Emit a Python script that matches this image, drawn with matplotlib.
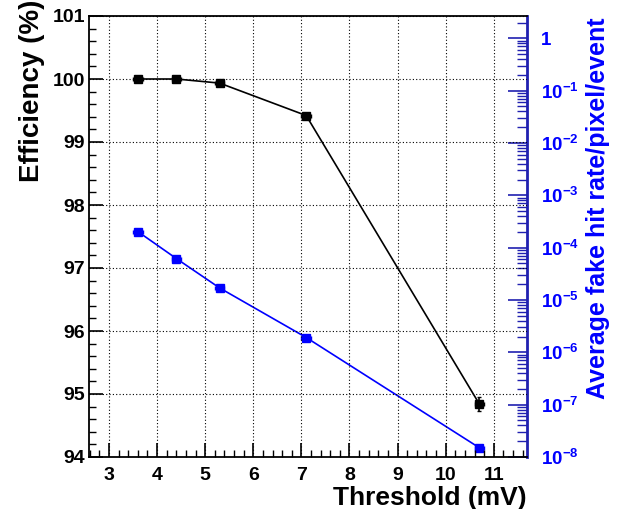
import numpy as np
import matplotlib
matplotlib.use('Agg')
import matplotlib.pyplot as plt
from matplotlib.ticker import MultipleLocator, FuncFormatter, FixedLocator, NullFormatter

plt.rcParams['font.family'] = ['Liberation Sans', 'DejaVu Sans']
plt.rcParams['font.weight'] = 'bold'
plt.rcParams['mathtext.fontset'] = 'custom'
plt.rcParams['mathtext.rm'] = 'Liberation Sans:bold'
plt.rcParams['mathtext.bf'] = 'Liberation Sans:bold'
plt.rcParams['mathtext.it'] = 'Liberation Sans:bold'

# data
threshold = [3.6, 4.4, 5.3, 7.1, 10.7]
threshold_err = [0.1, 0.1, 0.1, 0.1, 0.1]
efficiency = [100.0, 100.0, 99.935, 99.42, 94.84]
efficiency_err = [0.01, 0.01, 0.02, 0.03, 0.11]
fake_rate = [2.03e-4, 6.2e-5, 1.70e-5, 1.92e-6, 1.5e-8]

blue = '#0000ff'
axblue = '#2020b0'

fig = plt.figure(figsize=(6.2, 5.09), dpi=100)
ax = fig.add_axes([89/620, 1-457/509, (527-89)/620, (457-16)/509])
ax2 = ax.twinx()
ax.set_zorder(ax2.get_zorder()+1)
ax.patch.set_visible(False)

ax.errorbar(threshold, efficiency, xerr=threshold_err, yerr=efficiency_err,
            color='black', marker='s', markersize=6, lw=1.2, capsize=1.5, elinewidth=1.2)
ax2.errorbar(threshold, fake_rate, xerr=threshold_err,
             color=blue, marker='s', markersize=6, lw=1.2, capsize=1.5, elinewidth=1.2)

ax.set_xlim(2.585, 11.69)
ax.set_ylim(94, 101)
ax2.set_yscale('log')
ax2.set_ylim(1e-8, 2.67)

ax.xaxis.set_major_locator(MultipleLocator(1))
ax.xaxis.set_minor_locator(MultipleLocator(0.2))
ax.yaxis.set_major_locator(MultipleLocator(1))
ax.yaxis.set_minor_locator(MultipleLocator(0.2))
ax.grid(True, which='major', color='black', linestyle=(0, (1, 2)), lw=0.8)

ax.tick_params(axis='both', which='major', direction='in', length=10, width=1.2,
               labelsize=14, right=False, top=False)
ax.tick_params(axis='both', which='minor', direction='in', length=5, width=1,
               right=False, top=False)
ax.tick_params(axis='x', pad=7)
ax.tick_params(axis='y', pad=3)

decades = [10.0**e for e in range(-8, 1)]
minors = [m * d for d in decades for m in range(2, 10) if m * d <= 2.67]
ax2.yaxis.set_major_locator(FixedLocator(decades))
ax2.yaxis.set_minor_locator(FixedLocator(minors))
ax2.yaxis.set_minor_formatter(NullFormatter())

def fmt(v, pos):
    e = int(round(np.log10(v)))
    if e == 0:
        return '1'
    return r'$10^{%d}$' % e

ax2.yaxis.set_major_formatter(FuncFormatter(fmt))
ax2.tick_params(axis='y', which='major', direction='in', length=14, width=1.2,
                color=axblue, labelcolor=blue, labelsize=13.5, pad=10)
ax2.tick_params(axis='y', which='minor', direction='in', length=7, width=1,
                color=axblue)
ax2.xaxis.set_visible(False)

for s in ['left', 'bottom', 'top']:
    ax.spines[s].set_linewidth(1.3)
ax.spines['right'].set_visible(False)
for s in ['left', 'bottom', 'top']:
    ax2.spines[s].set_visible(False)
ax2.spines['right'].set_color(axblue)
ax2.spines['right'].set_linewidth(2)

xl = ax.set_xlabel('Threshold (mV)', fontsize=19, fontweight='bold', loc='right')
xl.set_verticalalignment('baseline')
ax.xaxis.set_label_coords(1.0, (457 - 505) / 441)
ax.set_ylabel('Efficiency (%)', fontsize=20, fontweight='bold', loc='top')
ax.yaxis.set_label_coords((45 - 89) / 438, 1 + 16 / 441)
ax2.set_ylabel('Average fake hit rate/pixel/event', fontsize=18, fontweight='bold',
               color=blue, loc='top')
ax2.yaxis.set_label_coords((586 - 89) / 438, 1 - 1 / 441)

fig.savefig('out.png', dpi=100)
